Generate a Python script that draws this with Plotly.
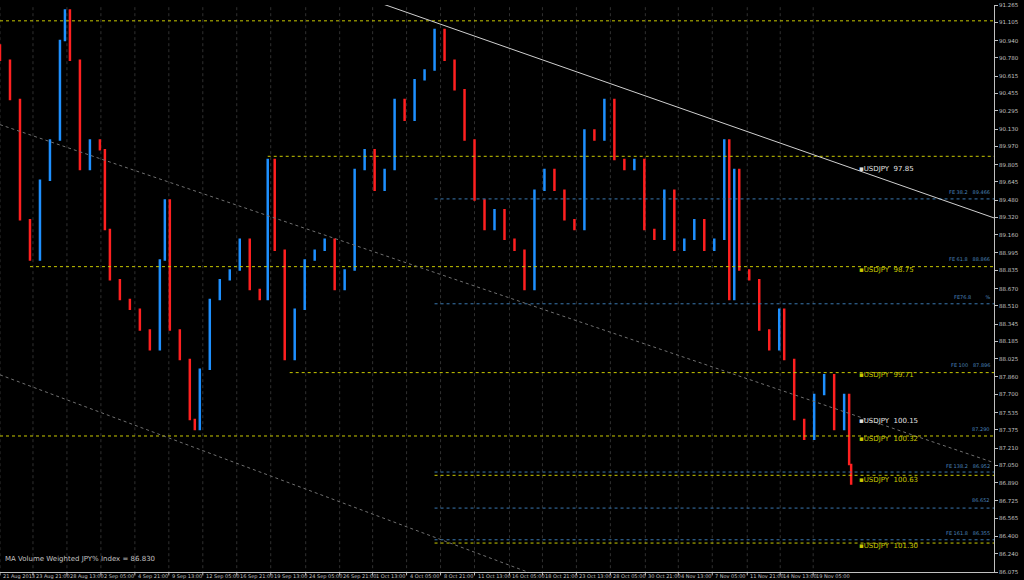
import plotly.graph_objects as go

bar_x = [0,10,20,30,40,50,60,65,70,80,90,100,105,110,120,130,140,150,160,165,170,180,190,195,200,210,220,230,240,250,260,268,275,285,295,305,315,325,335,345,355,365,375,385,395,405,415,425,435,445,455,465,475,485,495,505,515,525,535,545,555,565,575,585,595,605,615,625,635,645,655,665,675,685,695,705,715,725,730,735,740,750,760,770,780,785,795,805,815,825,835,845,850,852]
close = [90.76,90.40,89.30,88.93,89.66,90.03,90.94,91.22,90.76,89.76,90.03,89.94,89.21,88.75,88.57,88.48,88.29,88.11,88.93,89.48,88.29,88.02,87.47,87.38,87.93,88.57,88.75,88.84,89.12,88.66,88.57,89.85,89.02,88.02,88.48,88.93,89.02,89.12,88.66,88.84,89.76,89.94,89.57,89.76,90.40,90.21,90.58,90.67,91.04,90.76,90.49,90.03,89.48,89.21,89.39,89.12,89.02,88.66,89.57,89.76,89.57,89.30,89.21,90.12,90.03,90.40,89.85,89.76,89.85,89.21,89.12,89.57,89.02,89.12,89.30,89.02,89.12,90.03,88.57,89.76,88.84,88.75,88.29,88.11,88.48,88.02,87.47,87.29,87.70,87.88,87.38,87.70,87.06,86.88]
opens = [90.90] + close[:-1]

tick_x = [0,33,67,101,135,169,203,237,271,306,340,373,407,441,475,510,543,577,611,646,679,713,748,781,814]
tick_text = ["21 Aug 2013","23 Aug 21:00","28 Aug 13:00","2 Sep 05:00","4 Sep 21:00","9 Sep 13:00","12 Sep 05:00","16 Sep 21:00","19 Sep 13:00","24 Sep 05:00","26 Sep 21:00","1 Oct 13:00","4 Oct 05:00","8 Oct 21:00","11 Oct 13:00","16 Oct 05:00","18 Oct 21:00","23 Oct 13:00","28 Oct 05:00","30 Oct 21:00","4 Nov 13:00","7 Nov 05:00","11 Nov 21:00","14 Nov 13:00","19 Nov 05:00"]

y_ticks = [91.265,91.105,90.940,90.780,90.615,90.455,90.295,90.130,89.970,89.805,89.645,89.480,89.320,89.160,88.995,88.835,88.670,88.510,88.345,88.185,88.025,87.860,87.700,87.535,87.375,87.210,87.050,86.890,86.725,86.565,86.400,86.240,86.075]

levels = [(91.12,0,"#c8c800","dot"),(89.88,268,"#c8c800","dot"),(88.87,30,"#c8c800","dot"),
          (87.90,290,"#c8c800","dot"),(87.32,0,"#c8c800","dot"),(86.96,435,"#c8c800","dot"),
          (86.34,435,"#c8c800","dot"),
          (89.49,435,"#3a78b0","dot"),(88.53,435,"#3a78b0","dot"),(86.99,435,"#3a78b0","dot"),
          (86.66,435,"#3a78b0","dot"),(86.37,435,"#3a78b0","dot")]
fe_labels = [(89.51,"FE 38.2   89.466"),(88.89,"FE 61.8   88.866"),(88.55,"FE76.8         %"),
             (87.92,"FE 100   87.896"),(87.34,"87.290"),(87.00,"FE 138.2   86.952"),
             (86.69,"86.652"),(86.39,"FE 161.8   86.355")]
usd_labels = [(89.76,"USDJPY  97.85","#e0e0e0"),(88.84,"USDJPY  98.75","#c8c800"),
              (87.88,"USDJPY  99.71","#c8c800"),(87.46,"USDJPY  100.15","#e0e0e0"),
              (87.29,"USDJPY  100.32","#c8c800"),(86.92,"USDJPY  100.63","#c8c800"),
              (86.31,"USDJPY  101.30","#c8c800")]

fig = go.Figure(go.Candlestick(
    x=bar_x, open=opens, close=close,
    high=[max(a,b) for a,b in zip(opens,close)], low=[min(a,b) for a,b in zip(opens,close)],
    increasing=dict(line=dict(color="#1e90ff",width=1.5),fillcolor="#1e90ff"),
    decreasing=dict(line=dict(color="#ff2020",width=1.5),fillcolor="#ff2020"),
    whiskerwidth=0, showlegend=False))

shapes = []
for p,x0,c,d in levels:
    shapes.append(dict(type="line",x0=x0,x1=995,y0=p,y1=p,line=dict(color=c,width=1,dash=d)))
shapes.append(dict(type="line",x0=372,x1=1000,y0=91.31,y1=89.30,line=dict(color="#d0d0d0",width=1)))
shapes.append(dict(type="line",x0=0,x1=1000,y0=90.17,y1=87.06,line=dict(color="#707070",width=1,dash="dot")))
shapes.append(dict(type="line",x0=0,x1=550,y0=87.88,y1=86.00,line=dict(color="#707070",width=1,dash="dot")))
for tx in tick_x:
    shapes.append(dict(type="line",x0=tx,x1=tx,y0=86.0,y1=91.4,line=dict(color="#303030",width=1,dash="dot"),layer="below"))
    shapes.append(dict(type="line",x0=tx,x1=tx,y0=0,y1=-0.006,yref="paper",line=dict(color="#c0c0c0",width=1)))
fig.update_layout(shapes=shapes)

for tx,t in zip(tick_x,tick_text):
    fig.add_annotation(x=tx+1,y=0,yref="paper",text=t,showarrow=False,xanchor="left",yanchor="top",
                       yshift=1,font=dict(size=5,color="#c0c0c0"))
for v in y_ticks:
    fig.add_annotation(x=1,xref="paper",y=v,text=f"{v:.3f}",showarrow=False,xanchor="left",
                       xshift=3,font=dict(size=5.5,color="#c0c0c0"))
for p,t in fe_labels:
    fig.add_annotation(x=993,y=p,text=t,showarrow=False,xanchor="right",yanchor="bottom",font=dict(size=5,color="#4a80b8"))
for p,t,c in usd_labels:
    fig.add_annotation(x=858,y=p,text="▪"+t,showarrow=False,xanchor="left",font=dict(size=7,color=c))
fig.add_annotation(xref="paper",yref="paper",x=0.003,y=0.012,text="MA Volume Weighted JPY% Index = 86.830",
                   showarrow=False,xanchor="left",yanchor="bottom",font=dict(size=7,color="#c0c0c0"))

fig.update_layout(
    width=1024,height=580,paper_bgcolor="black",plot_bgcolor="black",
    margin=dict(l=0,r=30,t=5,b=8),
    font=dict(family="DejaVu Sans",size=6,color="#c0c0c0"),
    xaxis=dict(range=[0,995],showticklabels=False,showgrid=False,
               rangeslider=dict(visible=False),zeroline=False,showline=True,linecolor="#c0c0c0",ticks=""),
    yaxis=dict(range=[86.075,91.265],side="right",tickvals=y_ticks,showticklabels=False,
               showgrid=False,zeroline=False,showline=True,linecolor="#c0c0c0",ticks="outside",ticklen=3,
               tickcolor="#c0c0c0"),
)
fig.write_html("out.html", config={"displayModeBar": False},
               post_script="document.body.style.margin='0';document.body.style.background='black';document.body.style.overflow='hidden';")
